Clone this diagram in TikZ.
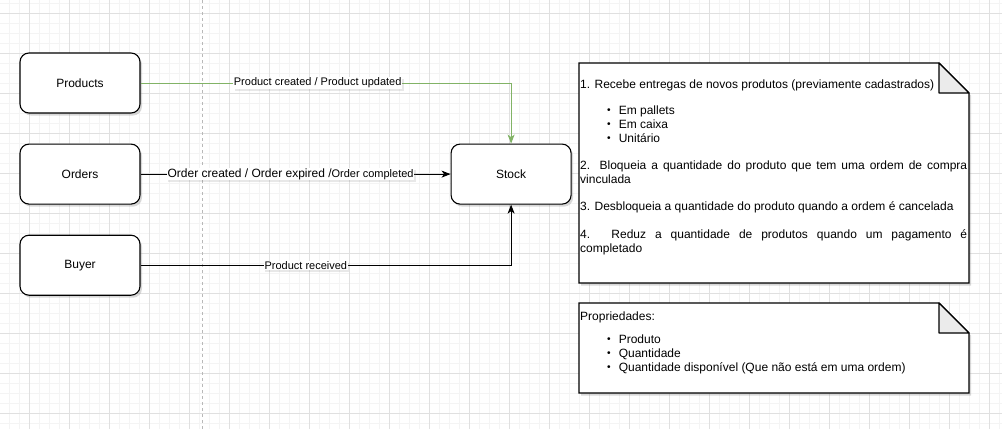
\documentclass[tikz,border=0pt]{standalone}
\usepackage{fontspec}
\setmainfont{Liberation Sans}
\usetikzlibrary{arrows.meta}
\usetikzlibrary{positioning}
\usetikzlibrary{shadows}
\definecolor{gridminor}{HTML}{F4F4F4}
\definecolor{gridmajor}{HTML}{E0E0E0}
\definecolor{guidegray}{HTML}{B8B8B8}
\definecolor{flowgreen}{HTML}{82B366}
\definecolor{foldgray}{HTML}{EBEBEB}
\newcommand{\memobullet}{\raisebox{0.2ex}{\scalebox{0.85}{\textbullet}}}
\tikzset{
  module/.style={draw, line width=1.1pt, rounded corners=9pt, fill=white,
    minimum width=120pt, minimum height=60pt, inner sep=0pt,
    font=\fontsize{12}{14}\selectfont,
    drop shadow={opacity=0.3, shadow xshift=2pt, shadow yshift=-2.5pt}},
  event/.style={fill=white, text=black, inner sep=0.6pt,
    font=\fontsize{11}{13}\selectfont,
    drop shadow={opacity=0.18, shadow xshift=1.5pt, shadow yshift=-2pt}},
  flow/.style={line width=0.9pt, -{Stealth[length=9pt,width=7pt,inset=2.5pt]}},
  memo/.style={draw, line width=1.1pt, fill=white,
    drop shadow={opacity=0.3, shadow xshift=2pt, shadow yshift=-2.5pt}},
  memotext/.style={anchor=north west, inner sep=0pt, text width=387pt,
    align=justify, font=\fontsize{12}{14}\selectfont},
}
\begin{document}
\begin{tikzpicture}[x=1pt, y=-1pt, node distance=30pt]
      \fill[white] (0,0) rectangle (1002,429);
      \useasboundingbox (0,0) rectangle (1002,429);
      \foreach \gx in {-0.7,9.3,...,1005} \draw[gridminor, line width=0.6pt] (\gx,0) -- (\gx,429);
      \foreach \gy in {3.3,13.3,...,430} \draw[gridminor, line width=0.6pt] (0,\gy) -- (1002,\gy);
      \foreach \gx in {29.3,69.3,...,1005} \draw[gridmajor, line width=0.7pt] (\gx,0) -- (\gx,429);
      \foreach \gy in {13.3,53.3,...,430} \draw[gridmajor, line width=0.7pt] (0,\gy) -- (1002,\gy);
      \draw[guidegray, line width=0.7pt, dash pattern=on 3pt off 3pt] (202.3,0) -- (202.3,429);

      \node[module] (products) at (80,83) {Products};
      \node[module, below=of products] (orders) {Orders};
      \node[module, below=of orders] (buyer) {Buyer};
      \node[module, right=310pt of orders] (stock) {Stock};

      \draw[flow, flowgreen] (products) -| node[event, pos=0.239] (created) {Product created / Product updated} (stock);
      \draw[flow] (orders) -- node[event, pos=0.484, font=\fontsize{12}{14}\selectfont] (ordered) {Order created / Order expired /{\fontsize{11}{13}\selectfont Order completed}} (stock);
      \draw[flow] (buyer) -| node[event, pos=0.223] (received) {Product received} (stock);

      \path[memo] (579,63) -- (939,63) -- (969,93) -- (969,283) -- (579,283) -- cycle;
      \draw[line width=1.1pt, fill=foldgray, line join=round] (939,63) -- (939,93) -- (969,93) -- cycle;
      \node[memotext] (rules) at (580,80) {%
        1. Recebe entregas de novos produtos (previamente cadastrados)\par
        \vspace{12pt}
        \hspace*{27pt}\memobullet\hspace{8pt}Em pallets\par
        \hspace*{27pt}\memobullet\hspace{8pt}Em caixa\par
        \hspace*{27pt}\memobullet\hspace{8pt}Unitário\par
        \vspace{13pt}
        2. Bloqueia a quantidade do produto que tem uma ordem de compra\linebreak vinculada\par
        \vspace{13pt}
        3. Desbloqueia a quantidade do produto quando a ordem é cancelada\par
        \vspace{14pt}
        4. Reduz a quantidade de produtos quando um pagamento é\linebreak completado\par};

      \path[memo] (579,303) -- (939,303) -- (969,333) -- (969,393) -- (579,393) -- cycle;
      \draw[line width=1.1pt, fill=foldgray, line join=round] (939,303) -- (939,333) -- (969,333) -- cycle;
      \node[memotext] (fields) at (580,312) {%
        Propriedades:\par
        \vspace{9pt}
        \hspace*{27pt}\memobullet\hspace{8pt}Produto\par
        \hspace*{27pt}\memobullet\hspace{8pt}Quantidade\par
        \hspace*{27pt}\memobullet\hspace{8pt}Quantidade disponível (Que não está em uma ordem)\par};
    \end{tikzpicture}
\end{document}
